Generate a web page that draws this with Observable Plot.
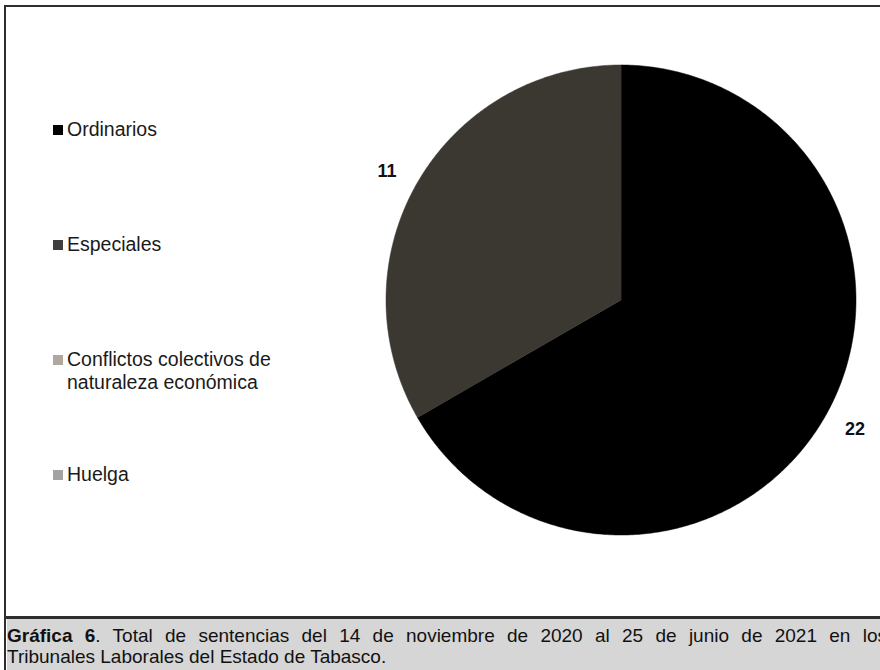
<!DOCTYPE html>
<html>
<head>
<meta charset="utf-8">
<script src="https://cdn.jsdelivr.net/npm/d3@7"></script>
<script src="https://cdn.jsdelivr.net/npm/@observablehq/plot@0.6"></script>
<style>
  html, body { margin: 0; padding: 0; background: #fff; }
  #frame { position: relative; width: 880px; height: 670px; overflow: hidden; background: #fff; font-family: "Liberation Sans", Arial, sans-serif; }
  #border { position: absolute; left: 4px; top: 5px; width: 900px; height: 700px; border-left: 2.5px solid #2e2e2e; border-top: 2.5px solid #2e2e2e; box-sizing: border-box; }
  #divider { position: absolute; left: 4px; top: 616px; width: 900px; height: 3px; background: #2e2e2e; }
  #caption { position: absolute; left: 6.5px; top: 619px; width: 900px; height: 60px; background: #d6d6d6; }
  #captext { position: absolute; left: 7px; top: 625px; width: 880px; font-family: "Liberation Sans", Arial, sans-serif; font-size: 19px; line-height: 21px; color: #111; }
  #captext .l1 { display: block; text-align: justify; text-align-last: justify; white-space: nowrap; }
  #captext .l2 { display: block; }
  #chart { position: absolute; left: 0; top: 0; }
  .leg { position: absolute; left: 53px; font-size: 19.5px; color: #1a1a1a; line-height: 23px; }
  .leg .sw { position: absolute; left: 0; top: 7px; width: 10px; height: 10px; }
  .leg .tx { margin-left: 14px; display: block; }
</style>
</head>
<body>
<div id="frame">
  <div id="border"></div>
  <div id="chart"></div>
  <div id="legend"></div>
  <div id="divider"></div>
  <div id="caption"></div>
  <div id="captext"><span class="l1"><b>Gráfica 6</b>. Total de sentencias del 14 de noviembre de 2020 al 25 de junio de 2021 en los</span><span class="l2">Tribunales Laborales del Estado de Tabasco.</span></div>
</div>
<script>
const categories = ["Ordinarios", "Especiales", "Conflictos colectivos de naturaleza económica", "Huelga"];
const values = [22, 11, 0, 0];
const pieColors = ["#000000", "#3b3731", "#b0a89e", "#a3a3a3"];
const legendColors = ["#000000", "#3f3f3f", "#b0a89e", "#a3a3a3"];
const legendLabels = ["Ordinarios", "Especiales", "Conflictos colectivos de<br>naturaleza económica", "Huelga"];

// build slice polygons from the values (clockwise from 12 o'clock)
const total = d3.sum(values);
const slices = [];
const labels = [];
let acc = 0;
categories.forEach((c, i) => {
  const a0 = acc / total * 2 * Math.PI;
  acc += values[i];
  const a1 = acc / total * 2 * Math.PI;
  if (values[i] <= 0) return;
  const n = Math.max(2, Math.ceil((a1 - a0) / 0.01));
  slices.push({cat: c, x: 0, y: 0});
  for (let k = 0; k <= n; k++) {
    const a = a0 + (a1 - a0) * k / n;
    slices.push({cat: c, x: Math.sin(a), y: Math.cos(a)});
  }
  const am = (a0 + a1) / 2;
  labels.push({cat: c, v: values[i], x: 1.15 * Math.sin(am), y: 1.1 * Math.cos(am)});
});

const W = 880, H = 612;
const plot = Plot.plot({
  width: W,
  height: H,
  marginLeft: 385.5,
  marginRight: 24.5,
  marginTop: 64.5,
  marginBottom: 77.5,
  x: {domain: [-1, 1], axis: null},
  y: {domain: [-1, 1], axis: null},
  color: {domain: categories, range: pieColors},
  style: {background: "transparent", overflow: "visible"},
  marks: [
    Plot.line(slices, {x: "x", y: "y", z: "cat", fill: "cat", stroke: "cat", strokeWidth: 0.5, curve: "linear-closed"}),
    Plot.text(labels, {x: "x", y: "y", text: d => String(d.v), fontSize: 18, fontWeight: "bold", fill: "#111", fontFamily: "Liberation Sans, Arial, sans-serif"})
  ]
});
document.getElementById("chart").appendChild(plot);

// legend
const legTops = [118, 233, 348, 463];
const leg = document.getElementById("legend");
categories.forEach((c, i) => {
  const d = document.createElement("div");
  d.className = "leg";
  d.style.top = legTops[i] + "px";
  d.innerHTML = `<span class="sw" style="background:${legendColors[i]}"></span><span class="tx">${legendLabels[i]}</span>`;
  leg.appendChild(d);
});
</script>
</body>
</html>
